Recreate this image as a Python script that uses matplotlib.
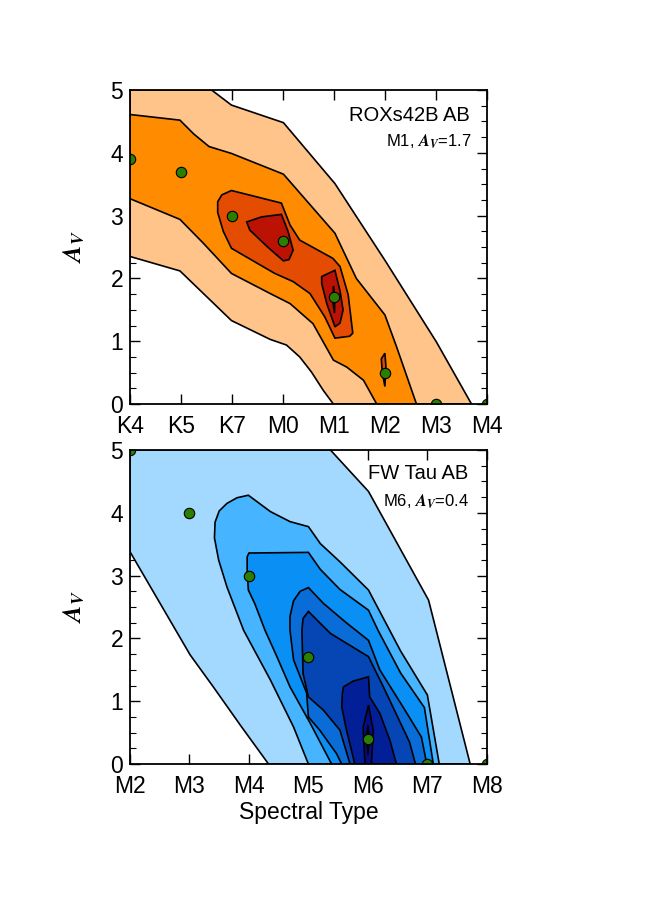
import matplotlib
matplotlib.use('Agg')
import matplotlib.pyplot as plt
from matplotlib.ticker import MultipleLocator

plt.rcParams['font.family'] = ['Liberation Sans', 'DejaVu Sans']
plt.rcParams['mathtext.fontset'] = 'custom'
plt.rcParams['mathtext.rm'] = 'STIXGeneral'
plt.rcParams['mathtext.it'] = 'STIXGeneral:italic:bold'
plt.rcParams['mathtext.bf'] = 'STIXGeneral:bold'

# ---- ROXs42B AB (top panel) ----
roxs_types = ['K4', 'K5', 'K7', 'M0', 'M1', 'M2', 'M3', 'M4']
roxs_pts_x = [0, 1, 2, 3, 4, 5, 6, 7]
roxs_pts_av = [3.9, 3.7, 3.0, 2.6, 1.7, 0.5, 0.0, 0.0]
roxs_colors = ['#FFC48A', '#FF8C00', '#E44C02', '#BC1204', '#8A0800']
# contour outlines (spectral-type index, Av), lightest level first
roxs_lvl1 = [(0, 5), (1.60, 5), (1.99, 4.76), (3.01, 4.48), (4.02, 3.51), (5.0, 2.29),
             (6.01, 0.99), (6.70, 0), (3.99, 0), (3.79, 0.22), (3.56, 0.51), (3.33, 0.75),
             (3.07, 0.94), (2.75, 1.03), (1.99, 1.33), (0.98, 2.12), (0, 2.35)]
roxs_lvl2 = [(0, 4.61), (0.98, 4.52), (1.25, 4.30), (1.55, 4.10), (1.99, 3.99), (3.01, 3.66),
             (4.02, 2.72), (4.44, 2.0), (5.0, 1.42), (5.23, 0.91), (5.62, 0), (4.84, 0),
             (4.58, 0.38), (4.25, 0.59), (3.99, 0.70), (3.59, 1.28), (3.14, 1.60), (2.75, 1.76),
             (1.99, 2.08), (1.44, 2.56), (0.98, 2.94), (0, 3.27)]
roxs_lvl3a = [(1.72, 3.22), (1.80, 3.33), (1.99, 3.40), (2.97, 3.20), (3.14, 2.85), (3.33, 2.61),
              (3.98, 2.32), (4.12, 2.19), (4.28, 1.74), (4.37, 1.13), (4.31, 1.08), (4.02, 1.05),
              (3.82, 1.39), (3.53, 1.76), (3.20, 1.95), (2.84, 2.08), (1.99, 2.48), (1.83, 2.75),
              (1.72, 3.05)]
roxs_lvl3b = [(4.93, 0.72), (5.0, 0.81), (5.02, 0.6), (5.0, 0.28), (4.95, 0.5)]
roxs_lvl4a = [(2.29, 2.90), (2.58, 2.98), (2.97, 3.02), (3.10, 2.75), (3.20, 2.45), (3.12, 2.30),
              (3.01, 2.28), (2.70, 2.50), (2.35, 2.77)]
roxs_lvl4b = [(3.76, 2.03), (4.02, 2.13), (4.12, 1.80), (4.18, 1.50), (4.12, 1.29), (4.02, 1.23),
              (3.86, 1.60), (3.76, 1.92)]
roxs_lvl5 = [(3.99, 1.88), (4.02, 1.70), (4.01, 1.45), (3.98, 1.62)]

# ---- FW Tau AB (bottom panel) ----
fw_types = ['M2', 'M3', 'M4', 'M5', 'M6', 'M7', 'M8']
fw_pts_x = [0, 1, 2, 3, 4, 5, 6]
fw_pts_av = [5.0, 4.0, 3.0, 1.7, 0.4, 0.0, 0.0]
fw_colors = ['#A3D9FF', '#46B4FF', '#0A8FF5', '#0A6CD6', '#0546B4', '#031F98', '#060C84', '#000560']
fw_lvl1 = [(0, 5), (3.37, 5), (4.01, 4.34), (5.02, 2.61), (5.72, 0), (2.33, 0), (1.87, 0.60),
           (1.40, 1.23), (1.01, 1.74), (0, 3.38)]
fw_lvl2 = [(1.99, 4.28), (2.36, 4.02), (2.69, 3.86), (3.0, 3.78), (3.20, 3.51), (3.53, 3.22),
           (4.01, 2.77), (4.55, 1.80), (5.0, 1.10), (5.20, 0), (3.0, 0), (2.75, 0.59),
           (2.36, 1.34), (1.91, 2.13), (1.63, 2.82), (1.49, 3.25), (1.42, 3.60), (1.43, 3.85),
           (1.50, 4.03), (1.63, 4.15), (1.80, 4.24)]
fw_lvl3 = [(1.97, 3.30), (2.0, 3.36), (3.0, 3.37), (3.20, 3.10), (3.53, 2.78), (4.01, 2.45),
           (4.17, 2.13), (4.55, 1.45), (4.95, 0.90), (5.10, 0), (3.39, 0), (3.03, 0.65),
           (2.69, 1.23), (2.47, 1.71), (2.27, 2.13), (2.10, 2.55), (1.99, 2.77), (1.97, 3.10)]
fw_lvl4 = [(3.0, 2.81), (3.25, 2.56), (3.65, 2.24), (4.01, 1.97), (4.20, 1.50), (4.59, 0.91),
           (4.90, 0.43), (4.99, 0), (3.56, 0), (3.47, 0.17), (3.19, 0.54), (3.0, 0.75),
           (2.97, 1.13), (2.75, 1.66), (2.69, 2.13), (2.69, 2.35), (2.75, 2.60), (2.86, 2.75)]
fw_lvl5 = [(3.0, 2.43), (3.37, 2.08), (4.01, 1.71), (4.25, 1.25), (4.50, 0.75), (4.70, 0.35),
           (4.80, 0), (3.70, 0), (3.53, 0.54), (3.25, 0.86), (3.0, 1.07), (2.91, 1.44),
           (2.89, 2.13), (2.91, 2.32)]
fw_lvl6 = [(3.59, 1.23), (3.75, 1.32), (4.01, 1.39), (4.03, 1.07), (4.20, 0.81), (4.37, 0.38),
           (4.48, 0), (3.78, 0), (3.64, 0.54), (3.56, 0.91), (3.57, 1.12)]
fw_lvl7 = [(4.01, 0.94), (4.09, 0.54), (4.06, 0), (3.95, 0), (3.92, 0.59)]
fw_lvl8 = [(4.0, 0.62), (4.02, 0.40), (4.0, 0.15), (3.98, 0.40)]


def draw_levels(ax, levels, colors):
    for poly, c in zip(levels, colors):
        xs = [p[0] for p in poly]
        ys = [p[1] for p in poly]
        ax.fill(xs, ys, facecolor=c, edgecolor='black', linewidth=1.2, zorder=2)


def set_axe_properties(ax, types):
    ax.set_xlim(0, len(types) - 1)
    ax.set_ylim(0, 5)
    ax.set_xticks(range(len(types)))
    ax.set_xticklabels(types)
    ax.yaxis.set_major_locator(MultipleLocator(1))
    ax.yaxis.set_minor_locator(MultipleLocator(0.25))
    ax.tick_params(which='both', direction='in', top=True, right=True, labelsize=16.5)
    ax.tick_params(which='major', length=7, width=1.0)
    ax.tick_params(which='minor', length=4, width=0.8)
    ax.tick_params(axis='x', pad=8)
    ax.tick_params(axis='y', pad=5)
    for s in ax.spines.values():
        s.set_linewidth(1.3)
        s.set_zorder(6)
    ax.set_ylabel(r'$A_V$', fontsize=18)
    ax.yaxis.set_label_coords(-0.12, 0.5)


fig = plt.figure(figsize=(6.5, 9), dpi=100)
ax1 = fig.add_axes([0.2, 0.551, 0.549, 0.349])
ax2 = fig.add_axes([0.2, 0.151, 0.549, 0.349])

# top panel
draw_levels(ax1, [roxs_lvl1, roxs_lvl2, roxs_lvl3a, roxs_lvl3b, roxs_lvl4a, roxs_lvl4b, roxs_lvl5],
            [roxs_colors[0], roxs_colors[1], roxs_colors[2], roxs_colors[2],
             roxs_colors[3], roxs_colors[3], roxs_colors[4]])
ax1.plot(roxs_pts_x, roxs_pts_av, 'o', ms=7.5, mfc='#2A7E00', mec='black', mew=0.8, zorder=5)
set_axe_properties(ax1, roxs_types)
ax1.text(0.952, 0.92, 'ROXs42B AB', transform=ax1.transAxes, ha='right', va='center', fontsize=14.5)
ax1.text(0.958, 0.834, r'M1, $A_V$=1.7', transform=ax1.transAxes, ha='right', va='center', fontsize=12)

# bottom panel
draw_levels(ax2, [fw_lvl1, fw_lvl2, fw_lvl3, fw_lvl4, fw_lvl5, fw_lvl6, fw_lvl7, fw_lvl8], fw_colors)
ax2.plot(fw_pts_x, fw_pts_av, 'o', ms=7.5, mfc='#2A7E00', mec='black', mew=0.8, zorder=5)
set_axe_properties(ax2, fw_types)
ax2.text(0.947, 0.924, 'FW Tau AB', transform=ax2.transAxes, ha='right', va='center', fontsize=14.5)
ax2.text(0.952, 0.834, r'M6, $A_V$=0.4', transform=ax2.transAxes, ha='right', va='center', fontsize=12)
ax2.set_xlabel('Spectral Type', fontsize=16.5, labelpad=2)

fig.savefig('out.png', dpi=100)
